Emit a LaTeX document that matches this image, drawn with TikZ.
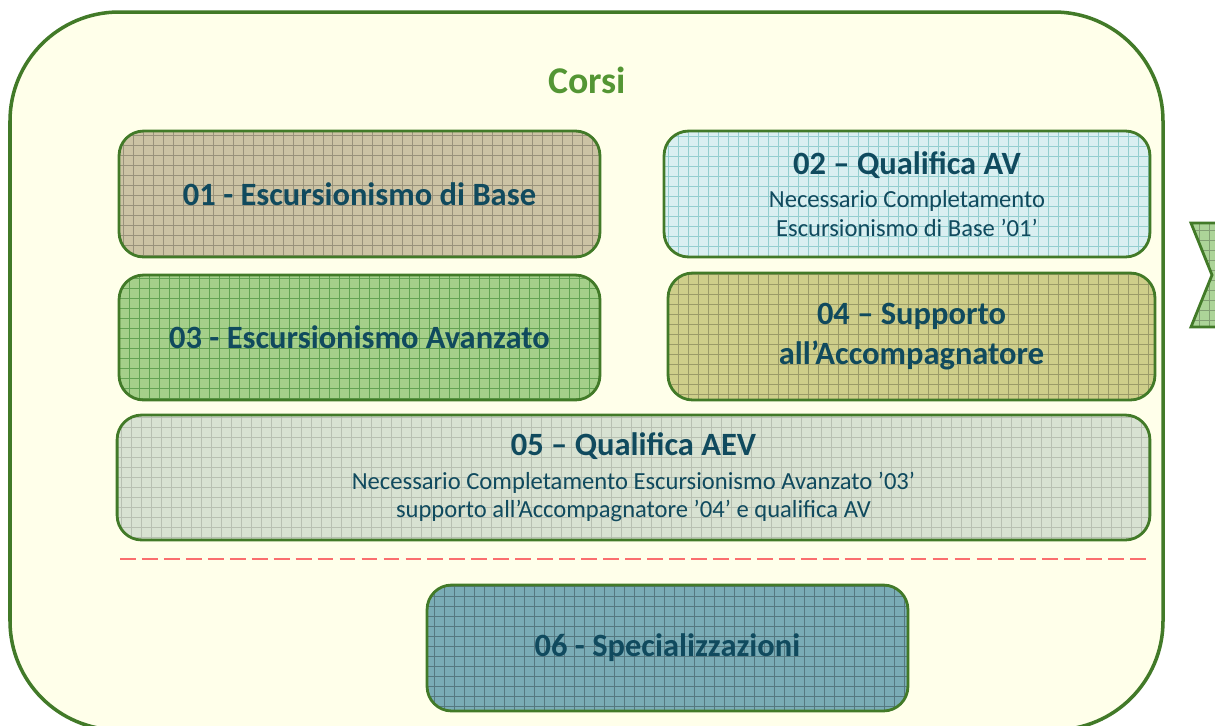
\documentclass[tikz,border=0pt]{standalone}
\usepackage{fontspec}
\setmainfont{Carlito}
\definecolor{framegreen}{RGB}{66,122,40}
\definecolor{titleteal}{RGB}{16,74,94}
\definecolor{corsigreen}{RGB}{84,150,52}
\definecolor{sfondo}{RGB}{255,255,234}
\definecolor{baseTan}{RGB}{204,195,164}
\definecolor{avCyan}{RGB}{218,239,241}
\definecolor{avanzGreen}{RGB}{165,207,138}
\definecolor{suppOlive}{RGB}{206,206,138}
\definecolor{aevGray}{RGB}{216,226,210}
\definecolor{specTeal}{RGB}{122,172,182}
\definecolor{frecciaGreen}{RGB}{172,212,152}
\definecolor{lineaRossa}{RGB}{250,110,110}
\tikzset{
  corso/.style={draw=framegreen, line width=1.6pt, rounded corners=14pt, inner sep=0pt,
    align=center, text=titleteal, minimum width=9.62cm, minimum height=2.52cm},
  quadretti/.style={path picture={\draw[#1, line width=0.5pt, step=0.2cm]
    (path picture bounding box.south west) grid (path picture bounding box.north east);}},
  titolo/.style={font=\fontsize{18.5}{22}\selectfont\bfseries}
}
\newcommand{\sottotesto}{\fontsize{14}{17}\selectfont\mdseries}
\begin{document}
\begin{tikzpicture}[x=0.02cm, y=-0.02cm]
\useasboundingbox (0,0) rectangle (1215,725);
\clip (0,0) rectangle (1215,725);

\filldraw[draw=framegreen, fill=sfondo, line width=2pt, rounded corners=62pt] (10,12) rectangle (1163,730);
\node[text=corsigreen, font=\fontsize{21.5}{25}\selectfont\bfseries] (corsi) at (587,80) {Corsi};

\node[corso, titolo, fill=baseTan, quadretti=baseTan!75!black] (base) at (359.5,194) {01 - Escursionismo di Base};
\node[corso, titolo, fill=avCyan, quadretti=avCyan!80!cyan!85!black, minimum width=9.72cm] (av) at (907,194)
  {02 -- Qualifica AV\\[-3pt] {\sottotesto Necessario Completamento}\\[-5.7pt] {\sottotesto Escursionismo di Base ’01’}};
\node[corso, titolo, fill=avanzGreen, quadretti=avanzGreen!80!green!75!black, minimum height=2.5cm] (avanzato) at (359.5,337.5) {03 - Escursionismo Avanzato};
\node[corso, titolo, fill=suppOlive, quadretti=suppOlive!75!black, minimum width=9.74cm, minimum height=2.54cm] (supporto) at (911.5,336.5)
  {04 -- Supporto\\[1pt] all’Accompagnatore};
\node[corso, titolo, fill=aevGray, quadretti=aevGray!85!black, minimum width=20.66cm, minimum height=2.5cm] (aev) at (633.5,477.5)
  {05 -- Qualifica AEV\\[-3pt] {\sottotesto Necessario Completamento Escursionismo Avanzato ’03’}\\[-5.7pt] {\sottotesto supporto all’Accompagnatore ’04’ e qualifica AV}};

\coordinate (tratteggioA) at (120,559);
\coordinate (tratteggioB) at (1150,559);
\draw[lineaRossa, line width=1.2pt, dash pattern=on 9pt off 3.5pt] (tratteggioA) -- (tratteggioB);

\node[corso, titolo, fill=specTeal, quadretti=specTeal!70!black] (spec) at (667.5,648) {06 - Specializzazioni};

\filldraw[draw=framegreen, fill=frecciaGreen, line width=1.6pt, quadretti=frecciaGreen!75!black]
  (1191,223) -- (1240,223) -- (1262,275) -- (1240,327) -- (1191,327) -- (1212,275) -- cycle;
\end{tikzpicture}
\end{document}
